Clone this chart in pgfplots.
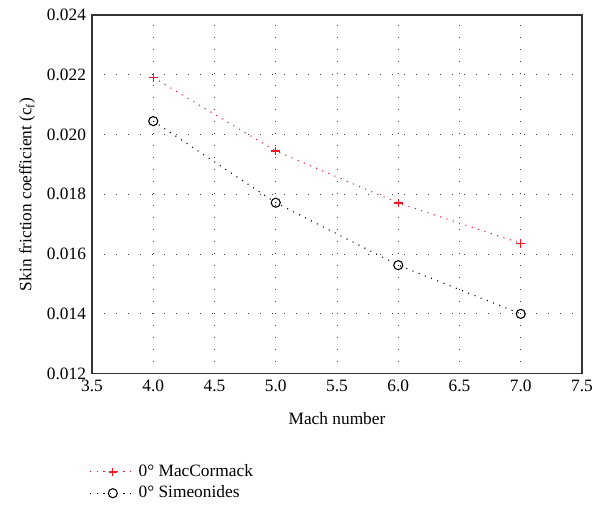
\documentclass[border=0pt]{standalone}
\usepackage{fontspec}
\setmainfont{Liberation Serif}
\usepackage{pgfplots}
\pgfplotsset{compat=1.18}
\definecolor{mcred}{RGB}{235,25,35}
\begin{document}
\fontsize{13pt}{15.5pt}\selectfont
\begin{tikzpicture}
\useasboundingbox (-69pt,-102.75pt) rectangle (378pt,280.25pt);
\begin{axis}[
  at={(0,0)}, anchor=south west,
  scale only axis, width=367.5pt, height=269pt,
  xmin=3.5, xmax=7.5, ymin=0.012, ymax=0.024,
  xtick={3.5,4.0,...,7.5},
  ytick={0.012,0.014,...,0.024},
  scaled y ticks=false,
  /pgf/number format/assume math mode=true,
  xticklabel style={/pgf/number format/.cd, fixed, fixed zerofill, precision=1},
  yticklabel style={/pgf/number format/.cd, fixed, fixed zerofill, precision=3},
  major tick length=0pt,
  axis line style={line width=1pt, black!80},
  grid=major,
  grid style={black!75, line width=0.6pt, dash pattern=on 0.6pt off 8.4pt},
  xlabel={Mach number},
  ylabel={Skin friction coefficient (c\textsubscript{f})},
  xlabel style={yshift=-7pt},
  legend style={at={(0,0)}, anchor=north west, yshift=-64pt, xshift=-5pt, draw=none, fill=none, row sep=1pt, font=\fontsize{13pt}{15.5pt}\selectfont},
  legend cell align=left,
  legend image code/.code={\draw[#1] (0pt,0pt) -- (34pt,0pt); \draw[#1, mark repeat=2, mark phase=2] plot coordinates {(0pt,0pt) (17pt,0pt) (34pt,0pt)};},
]
\addplot[mcred, line width=0.8pt, dash pattern=on 0.8pt off 4.2pt, mark=+, mark size=3.2pt, mark options={solid, draw=mcred, line width=1.05pt}]
  coordinates {(4.0,0.02191) (5.0,0.01945) (6.0,0.01771) (7.0,0.01636)};
\addlegendentry{0° MacCormack}
\addplot[black, line width=0.8pt, dash pattern=on 0.8pt off 4.2pt, mark=o, mark size=3.4pt, mark options={solid, black, line width=0.8pt}]
  coordinates {(4.0,0.02045) (5.0,0.01772) (6.0,0.01563) (7.0,0.0140)};
\addlegendentry{0° Simeonides}
\end{axis}
\end{tikzpicture}
\end{document}
